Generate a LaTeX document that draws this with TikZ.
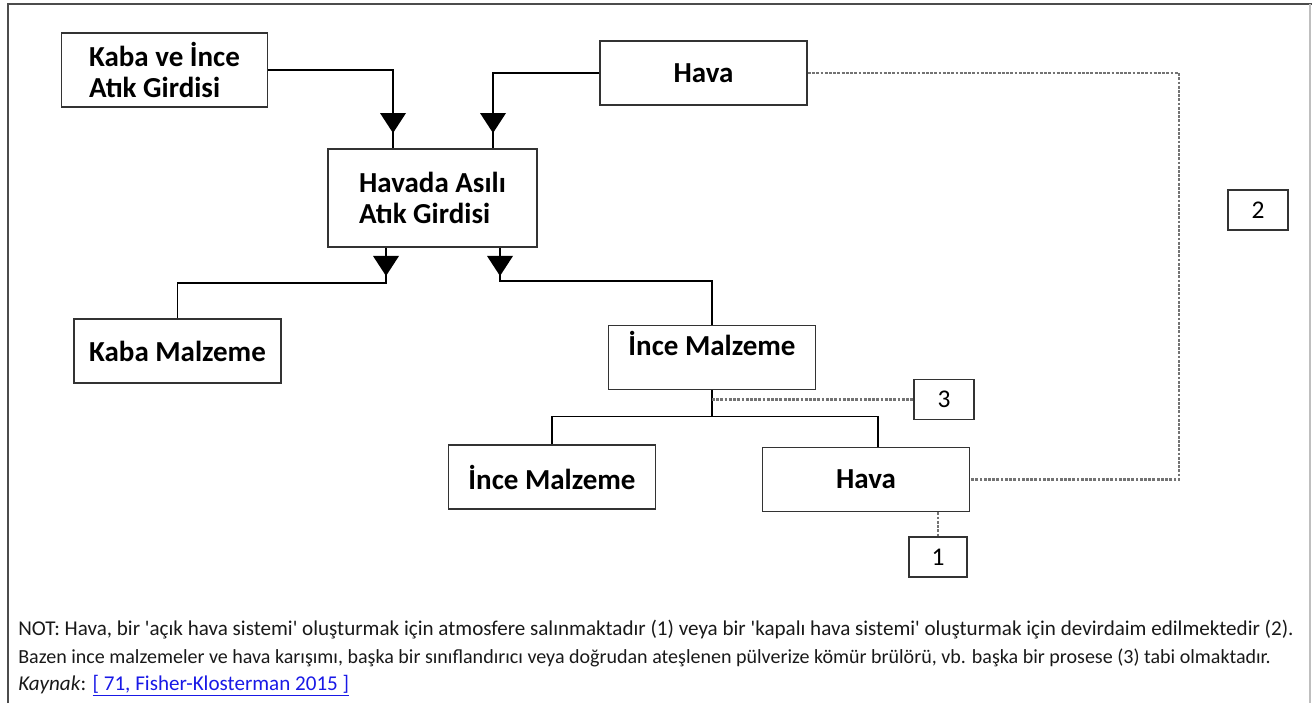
\documentclass[tikz,border=0pt]{standalone}
\usepackage{fontspec}
\setmainfont{Carlito}
\usetikzlibrary{positioning, calc, decorations.markings}

\definecolor{linkblue}{RGB}{25,25,230}

\tikzset{
  box/.style={draw=black!80, line width=1.1pt, minimum width=4.14cm, minimum height=1.28cm,
    inner sep=0pt, font=\fontsize{16.5}{17.5}\selectfont\bfseries},
  numbox/.style={draw=black!80, line width=1.1pt, minimum width=1.2cm, minimum height=0.8cm,
    inner sep=0pt, font=\fontsize{14.5}{15}\selectfont},
  conn/.style={black, line width=0.85pt},
  backline/.style={black!55, dash pattern=on 1.6pt off 0.8pt, line width=1.6pt},
  downtip/.style={postaction={decorate, decoration={markings,
    mark=at position #1 with {\fill (0,0) -- (-0.4cm,0.26cm) -- (-0.4cm,-0.26cm) -- cycle;}}}},
  note/.style={anchor=base west, inner sep=0pt, text=black!90, font=\fontsize{12}{14}\selectfont}
}

\begin{document}
\begin{tikzpicture}[x=0.02cm, y=-0.02cm]
  \useasboundingbox (0,0) rectangle (1314,703);
  % frame
  \draw[black!70, line width=1.3pt] (8,703) -- (8,4) -- (1312,4);
  \draw[black!25, line width=0.8pt] (1310,4) -- (1310,703);

  % boxes
  \node[box, minimum width=4.12cm, minimum height=1.48cm, align=left] (kabaince) at (164.5,70) {Kaba ve İnce\\Atık Girdisi};
  \node[box] (hava1) at (703.5,73) {Hava};
  \node[box, minimum width=4.18cm, minimum height=1.96cm, align=left] (havada) at (432.5,198) {Havada Asılı\\Atık Girdisi};
  \node[box] (kabamalz) at (177.5,351) {Kaba Malzeme};
  \node[box, text depth=0.55cm] (ince1) at (712,357.5) {İnce Malzeme};
  \node[box] (ince2) at (552,477) {İnce Malzeme};
  \node[box] (hava2) at (866,479.5) {Hava};
  \node[numbox] (n3) at (944,399.5) {3};
  \node[numbox] (n2) at (1258,210) {2};
  \node[numbox, minimum width=1.16cm] (n1) at (938,557) {1};

  % flows
  \draw[conn, downtip=-0.3cm] (kabaince.east) -| ($(havada.north)+(-39.5,0)$);
  \draw[conn, downtip=-0.3cm] (hava1.west) -| ($(havada.north)+(60.5,0)$);
  \draw[conn, downtip=0.56cm] ($(havada.south)+(-46.5,0)$) -- ++(0,35) -| (kabamalz.north);
  \draw[conn, downtip=0.56cm] ($(havada.south)+(67.5,0)$) -- ++(0,33) -| (ince1.north);
  \draw[conn] (ince1.south) -- ++(0,26) coordinate (split);
  \draw[conn] (ince2.north) |- (split) -| ($(hava2.north)+(12,0)$);

  % air return / release / other process
  \draw[backline] (hava1.east) -- ++(371,0) coordinate (corner) |- (hava2.east);
  \draw[backline] (ince1.south |- n3.west) -- (n3.west);
  \draw[backline] (hava2.south -| n1.north) -- (n1.north);

  % note
  \node[note] (not1) at (18,635) {NOT: Hava, bir \textquotesingle açık hava sistemi\textquotesingle{} oluşturmak için atmosfere salınmaktadır (1) veya bir \textquotesingle kapalı hava sistemi\textquotesingle{} oluşturmak için devirdaim edilmektedir (2).};
  \node[note, font=\fontsize{11.4}{14}\selectfont] (not2) at (18,663) {Bazen ince malzemeler ve hava karışımı, başka bir sınıflandırıcı veya doğrudan ateşlenen pülverize kömür brülörü, vb. başka bir prosese (3) tabi olmaktadır.};
  \node[note] (not3) at (18,690) {\textit{Kaynak}: \textcolor{linkblue}{\underline{[ 71, Fisher-Klosterman 2015 ]}}};
\end{tikzpicture}
\end{document}
